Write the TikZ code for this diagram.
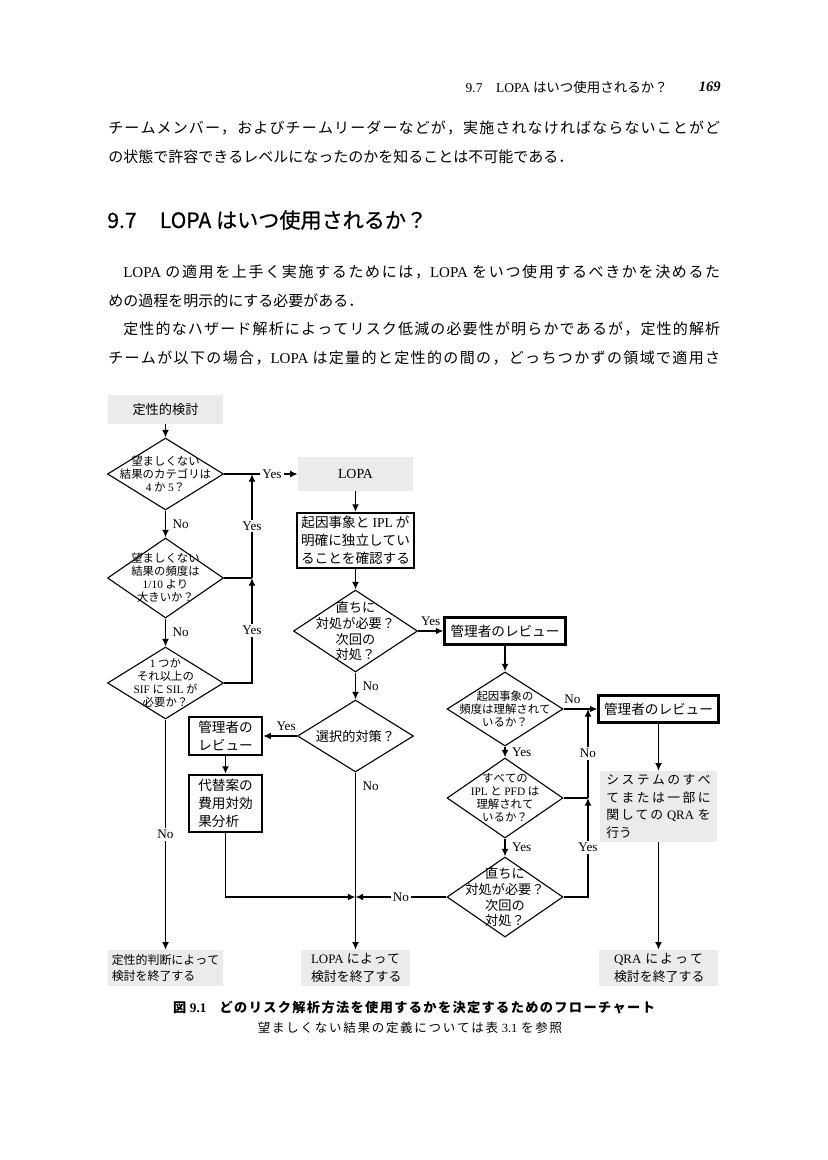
\documentclass[tikz,border=0pt]{standalone}
\usepackage{fontspec}
\setmainfont{Noto Sans CJK JP}
\newfontfamily\lat{Liberation Serif}
\newfontfamily\hdfont[FakeBold=0.6]{Noto Sans CJK JP}
\usetikzlibrary{shapes.geometric}
\usetikzlibrary{arrows.meta}
\definecolor{boxgray}{HTML}{EBEBEB}
\newcommand\en[1]{{\lat #1}}
\newcommand\fs[2]{\fontsize{#1}{#2}\selectfont}
\newcommand\cjkglue{\hskip0pt plus 2pt\relax}
\newXeTeXintercharclass\jpclass
\newcount\jpcc
\newcommand\jprange[2]{\jpcc=#1 \loop\XeTeXcharclass\jpcc=\jpclass\ifnum\jpcc<#2 \advance\jpcc by 1 \repeat}
\jprange{"3000}{"30FF}
\jprange{"4E00}{"9FFF}
\jprange{"FF01}{"FF60}
\XeTeXinterchartokenstate=1
\XeTeXinterchartoks\jpclass\jpclass={\cjkglue}

\begin{document}
\begin{tikzpicture}[x=0.72pt, y=-0.72pt,
    >={Latex[length=5.5pt,width=5pt]},
    every node/.style={inner sep=0pt},
    body/.style={anchor=west, font=\fs{10.8}{12}},
    gbox/.style={fill=boxgray, align=center, font=\fs{9.5}{12.5}},
    tbox/.style={draw, line width=1.6pt, align=center, font=\fs{9.8}{13}},
    dia/.style={diamond, draw, line width=0.8pt, minimum width=83.5pt, minimum height=51.8pt},
    dtxt/.style={align=center, font=\fs{8.2}{9.4}},
    conn/.style={line width=1.3pt},
    flow/.style={conn, ->},
    lab/.style={font=\lat\fs{9.5}{11}, inner sep=1.5pt},
    onl/.style={lab, fill=white}
  ]
  \useasboundingbox (0,0) rectangle (827,1160);

  \node[anchor=east, font=\fs{9.7}{12}] (runhead) at (668,87) {\en{9.7}\quad\en{LOPA} はいつ使用されるか？};
  \node[anchor=east, font=\lat\bfseries\itshape\fs{10.5}{12}] (pageno) at (721,87) {169};
  \node[body] (l1) at (108,128) {\makebox[440.6pt][s]{チームメンバー，およびチームリーダーなどが，実施されなければならないことがど}};
  \node[body] (l2) at (108,157) {の状態で許容できるレベルになったのかを知ることは不可能である．};
  \node[body, font=\hdfont\fs{15.2}{18}] (sec) at (107,220) {9.7\hspace{1.1em}LOPA はいつ使用されるか？};
  \node[body] (l3) at (108,272) {\makebox[440.6pt][s]{\hspace{1em}\en{LOPA} の適用を上手く実施するためには，\en{LOPA} をいつ使用するべきかを決めるた}};
  \node[body] (l4) at (108,301) {めの過程を明示的にする必要がある．};
  \node[body] (l5) at (108,329) {\makebox[440.6pt][s]{\hspace{1em}定性的なハザード解析によってリスク低減の必要性が明らかであるが，定性的解析}};
  \node[body] (l6) at (108,358) {\makebox[440.6pt][s]{チームが以下の場合，\en{LOPA} は定量的と定性的の間の，どっちつかずの領域で適用さ}};

  \node[gbox, minimum width=82.1pt, minimum height=20.9pt] (start) at (165.5,409.5) {定性的検討};
  \node[dia, label={[dtxt]center:{望ましくない\\結果のカテゴリは\\\en{4} か \en{5}？}}] (q1) at (165.5,474) {};
  \node[dia, minimum height=57.6pt, label={[dtxt]center:{望ましくない\\結果の頻度は\\\en{1/10} より\\大きいか？}}] (q2) at (165.5,578) {};
  \node[dia, label={[dtxt]center:{\en{1} つか\\それ以上の\\\en{SIF} に \en{SIL} が\\必要か？}}] (q3) at (165.5,683) {};
  \node[gbox, minimum width=82.8pt, minimum height=25.9pt, align=left, font=\fs{8.6}{12}] (end1) at (165.5,968) {定性的判断によって\\検討を終了する};

  \node[gbox, minimum width=82.8pt, minimum height=24.5pt, font=\lat\fs{10}{12}] (lopa) at (355.5,474) {LOPA};
  \node[tbox, minimum width=84.2pt, minimum height=39.6pt] (chk) at (355.5,540.5) {起因事象と \en{IPL} が\\明確に独立してい\\ることを確認する};
  \node[dia, minimum width=89.3pt, minimum height=59pt, label={[dtxt, font=\fs{9.5}{11.5}]center:{直ちに\\対処が必要？\\次回の\\対処？}}] (q4) at (355.5,631) {};
  \node[dia, label={[dtxt, font=\fs{9.5}{11}]center:{選択的対策？}}] (q8) at (355.5,736) {};
  \node[tbox, minimum width=52.6pt, minimum height=27.4pt] (rev3) at (225.5,736) {管理者の\\レビュー};
  \node[tbox, minimum width=52.6pt, minimum height=41pt, align=left] (alt) at (225.5,803.5) {代替案の\\費用対効\\果分析};
  \node[gbox, minimum width=77.8pt, minimum height=25.9pt, align=left, font=\fs{9.3}{13}] (end2) at (355.5,968) {\makebox[64pt][s]{\en{LOPA} によって}\\\makebox[64pt][s]{検討を終了する}};

  \node[tbox, minimum width=87.1pt, minimum height=19.4pt] (rev1) at (505,631) {管理者のレビュー};
  \node[dia, minimum height=53.3pt, label={[dtxt]center:{起因事象の\\頻度は理解されて\\いるか？}}] (q5) at (505,709) {};
  \node[dia, minimum height=57.6pt, label={[dtxt]center:{すべての\\\en{IPL} と \en{PFD} は\\理解されて\\いるか？}}] (q6) at (505,798) {};
  \node[dia, minimum height=57.6pt, label={[dtxt, font=\fs{9.5}{11.5}]center:{直ちに\\対処が必要？\\次回の\\対処？}}] (q7) at (505,897) {};

  \node[tbox, minimum width=86.4pt, minimum height=19.4pt] (rev2) at (658.5,709) {管理者のレビュー};
  \node[gbox, minimum width=84.2pt, minimum height=51.1pt, align=left, font=\fs{9.2}{12.6}] (qra) at (658.5,806.5) {\makebox[75pt][s]{システムのすべ}\\\makebox[75pt][s]{てまたは一部に}\\\makebox[75pt][s]{関しての \en{QRA} を}\\行う};
  \node[gbox, minimum width=85pt, minimum height=25.9pt, align=left, font=\fs{9.3}{13}] (end3) at (658.5,968) {\makebox[64pt][s]{\en{QRA} によって}\\\makebox[64pt][s]{検討を終了する}};

  \coordinate (j1) at (252,474);
  \coordinate (j2) at (252,578);
  \coordinate (k1) at (588,709);
  \coordinate (k2) at (588,798);
  \coordinate (m) at (355.5,897);

  \draw[flow] (start) -- (q1);
  \draw[flow] (q1) -- node[onl, pos=0.65]{Yes} (lopa);
  \draw[flow] (q1) -- node[lab, right=3pt]{No} (q2);
  \draw[flow] (q2) -- node[lab, right=3pt]{No} (q3);
  \draw[flow] (q3) -- node[onl]{No} (end1);
  \draw[conn] (q2) -- (j2);
  \draw[flow] (q3) -| node[onl, pos=0.75]{Yes} (j2);
  \draw[flow] (j2) -- node[onl]{Yes} (j1);

  \draw[flow] (lopa) -- (chk);
  \draw[flow] (chk) -- (q4);
  \draw[flow] (q4) -- node[lab, above=2pt]{Yes} (rev1);
  \draw[flow] (q4) -- node[lab, right=3pt]{No} (q8);
  \draw[flow] (q8) -- node[lab, above=1.5pt, pos=0.32]{Yes} (rev3);
  \draw[flow] (rev3) -- (alt);
  \draw[flow] (alt) |- (m);
  \draw[flow] (q8) -- node[lab, right=3pt, pos=0.08]{No} (end2);
  \draw[flow] (q7) -- node[onl]{No} (m);

  \draw[flow] (rev1) -- (q5);
  \draw[flow] (q5) -- node[lab, above=2pt, pos=0.26]{No} (rev2);
  \draw[flow] (q5) -- node[lab, right=3pt]{Yes} (q6);
  \draw[flow] (q6) -- node[lab, right=3pt]{Yes} (q7);
  \draw[conn] (q6) -- (k2);
  \draw[flow] (q7) -| node[onl, pos=0.75]{Yes} (k2);
  \draw[flow] (k2) -- node[onl]{No} (k1);
  \draw[flow] (rev2) -- (qra);
  \draw[flow] (qra) -- (end3);

  \node[font=\bfseries\fs{9.5}{12}] (cap) at (414,1008) {\makebox[347pt][s]{図 \en{9.1}\quad どのリスク解析方法を使用するかを決定するためのフローチャート}};
  \node[font=\fs{9}{12}] (capsub) at (410,1028) {\makebox[219pt][s]{望ましくない結果の定義については表 \en{3.1} を参照}};
\end{tikzpicture}
\end{document}
